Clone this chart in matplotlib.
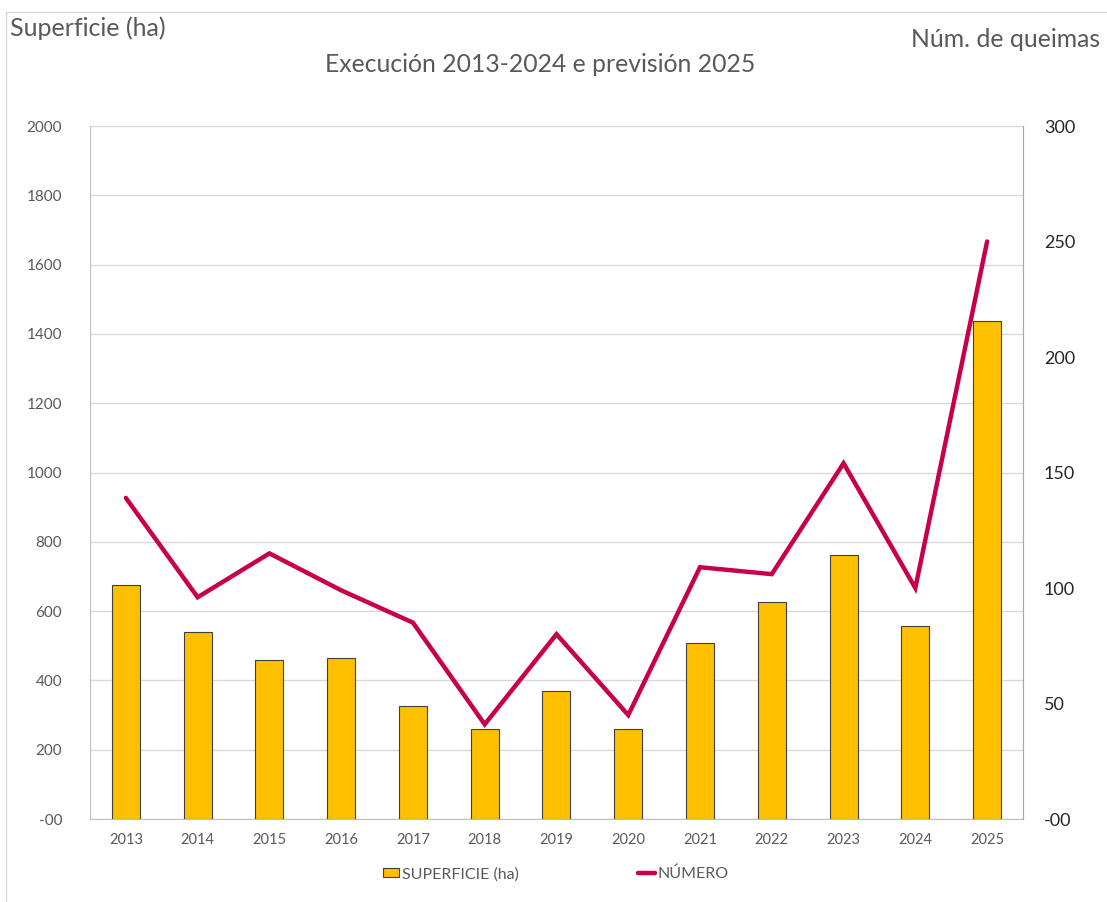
import numpy as np
import matplotlib
matplotlib.use('Agg')
from matplotlib import pyplot as plt
from matplotlib.patches import Rectangle

plt.rcParams['font.family'] = ['Lato', 'DejaVu Sans']

years = ['2013', '2014', '2015', '2016', '2017', '2018', '2019',
         '2020', '2021', '2022', '2023', '2024', '2025']
superficie = [675, 540, 459, 465, 326, 260, 369, 260, 508, 626, 762, 557, 1437]
numero = [139, 96, 115, 99, 85, 41, 80, 45, 109, 106, 154, 100, 250]

left_ticks = [0, 200, 400, 600, 800, 1000, 1200, 1400, 1600, 1800, 2000]
left_labels = ['-00', '200', '400', '600', '800', '1000', '1200', '1400', '1600', '1800', '2000']
right_ticks = [0, 50, 100, 150, 200, 250, 300]
right_labels = ['-00', '50', '100', '150', '200', '250', '300']

gray = '#595959'
fig = plt.figure(figsize=(11.07, 9.02), dpi=100)
fig.patches.append(Rectangle((0.005, -0.01), 1.1, 0.997, transform=fig.transFigure,
                             fill=False, edgecolor='#d9d9d9', lw=1))

ax = fig.add_axes([0.0813, 0.092, 0.8428, 0.7683])
x = np.arange(len(years))
b = ax.bar(x, superficie, width=0.39, color='#FFC000', edgecolor='#404040', lw=0.8,
           label='SUPERFICIE (ha)', zorder=2)
ax.set_xlim(-0.5, 12.5)
ax.set_ylim(0, 2000)
ax.set_yticks(left_ticks)
ax.set_yticklabels(left_labels)
ax.set_xticks(x)
ax.set_xticklabels(years)
ax.tick_params(axis='both', length=0, colors=gray, labelsize=10.5)
ax.tick_params(axis='y', pad=20, labelsize=11)
ax.tick_params(axis='x', pad=10)
ax.grid(axis='y', color='#d9d9d9', lw=1, zorder=0)
ax.spines['top'].set_visible(False)
for s in ['left', 'bottom', 'right']:
    ax.spines[s].set_color('#bfbfbf')

ax2 = ax.twinx()
l, = ax2.plot(x, numero, color='#C8004B', lw=3.2, label='NÚMERO',
              solid_capstyle='round', solid_joinstyle='miter', zorder=3)
ax2.set_ylim(0, 300)
ax2.set_yticks(right_ticks)
ax2.set_yticklabels(right_labels)
ax2.tick_params(axis='y', length=0, colors='#262626', labelsize=13, pad=15)
for s in ['top', 'left', 'bottom']:
    ax2.spines[s].set_visible(False)
ax2.spines['right'].set_color('#a6a6a6')

fig.text(0.009, 0.969, 'Superficie (ha)', fontsize=18, color=gray, va='center', ha='left')
fig.text(0.994, 0.956, 'Núm. de queimas', fontsize=17.8, color=gray, va='center', ha='right')
fig.text(0.488, 0.928, 'Execución 2013-2024 e previsión 2025', fontsize=17.8, color=gray,
         va='center', ha='center')

fig.legend([b, l], ['SUPERFICIE (ha)', 'NÚMERO'], loc='center', bbox_to_anchor=(0.502, 0.031),
           ncol=2, frameon=False, fontsize=11.5, labelcolor=gray, columnspacing=7.5,
           handlelength=1.05, handleheight=0.55, handletextpad=0.15)

plt.savefig('out.png', dpi=100)
